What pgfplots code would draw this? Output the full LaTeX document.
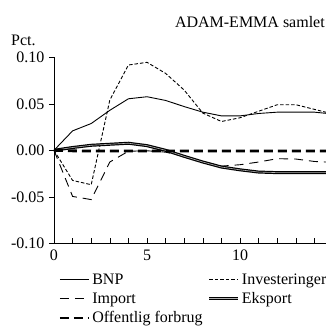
\documentclass[border=0pt]{standalone}
\usepackage{pgfplots}
\pgfplotsset{compat=1.18}
\usepackage{fontspec}
\setmainfont{Liberation Serif}

% Impulse responses, pct. deviation from baseline
\pgfplotstableread{
x bnp inv imp eks off
0  0.0000  0.0000  0.0000  0.0000  0.0000
1  0.0209 -0.0324 -0.0496  0.0030 -0.0006
2  0.0288 -0.0370 -0.0530  0.0054 -0.0008
3  0.0430  0.0540 -0.0126  0.0065 -0.0008
4  0.0554  0.0917 -0.0010  0.0076 -0.0008
5  0.0576  0.0946 -0.0005  0.0050 -0.0008
6  0.0536  0.0827 -0.0020  0.0000 -0.0008
7  0.0470  0.0647 -0.0065 -0.0065 -0.0008
8  0.0410  0.0400 -0.0120 -0.0126 -0.0008
9  0.0370  0.0310 -0.0170 -0.0180 -0.0008
10 0.0370  0.0350 -0.0155 -0.0210 -0.0008
11 0.0396  0.0420 -0.0126 -0.0234 -0.0008
12 0.0410  0.0490 -0.0090 -0.0240 -0.0008
13 0.0410  0.0490 -0.0094 -0.0240 -0.0008
14 0.0410  0.0440 -0.0120 -0.0240 -0.0008
15 0.0390  0.0390 -0.0130 -0.0240 -0.0008
}\datatable

\begin{document}
\begin{tikzpicture}[x=1bp,y=1bp,font=\fontsize{16bp}{19bp}\selectfont]
\begin{axis}[
  scale only axis, width=272bp, height=186bp,
  xmin=0, xmax=14.62, ymin=-0.10, ymax=0.10,
  clip=true,
  axis x line*=bottom, axis y line*=left,
  axis line style={line width=0.8bp, -},
  xtick={0,5,10,15}, minor xtick={1,2,3,4,6,7,8,9,11,12,13,14},
  x tick style={line width=0.6bp, black},
  minor x tick style={line width=0.6bp, black},
  major tick length=5bp, minor tick length=5bp,
  xtick align=inside,
  ytick={-0.10,-0.05,0,0.05,0.10},
  yticklabels={-0.10,-0.05,0.00,0.05,0.10},
  ytick align=outside,
  y tick style={line width=0.6bp, black},
  xticklabel style={yshift=-3bp},
  yticklabel style={xshift=-1bp},
  /pgf/number format/assume math mode=true,
  tick label style={font=\fontsize{16bp}{19bp}\selectfont},
  legend style={draw=none, fill=none, at={(0.0158,-0.158)}, anchor=north west,
    font=\fontsize{16bp}{19bp}\selectfont,
    row sep=4.5bp, column sep=1bp, inner sep=0pt,
    nodes={inner sep=1bp},
    /tikz/every even column/.append style={column sep=4.3bp}},
  legend columns=2,
  legend cell align=left,
  legend image code/.code={\draw[#1] (0bp,0bp) -- (29bp,0bp);},
]
\addplot[black, line width=0.9bp] table[x=x,y=bnp] {\datatable};
\addlegendentry{BNP}
\addplot[black, line width=0.9bp, dash pattern=on 3.5bp off 2bp] table[x=x,y=inv] {\datatable};
\addlegendentry{Investeringer}
\addplot[black, line width=0.9bp, dash pattern=on 9bp off 6bp] table[x=x,y=imp] {\datatable};
\addlegendentry{Import}
\addplot[black, line width=1.2bp, double=gray!60, double distance=0.6bp] table[x=x,y=eks] {\datatable};
\addlegendentry{Eksport}
\addplot[black, line width=2.8bp, dash pattern=on 9bp off 5bp] table[x=x,y=off] {\datatable};
\addlegendentry{Offentlig forbrug}
\coordinate (O) at (axis cs:0,0);
\end{axis}
\pgfresetboundingbox
\path[use as bounding box] ([shift={(-54,-176.7)}]O) rectangle ([shift={(272,150.3)}]O);
\node[anchor=base east, inner sep=0pt] at ([shift={(271,122.8)}]O) {ADAM-EMMA samlet};
\node[anchor=base west, inner sep=0pt] at ([shift={(-43,104.8)}]O) {Pct.};
\end{tikzpicture}
\end{document}
